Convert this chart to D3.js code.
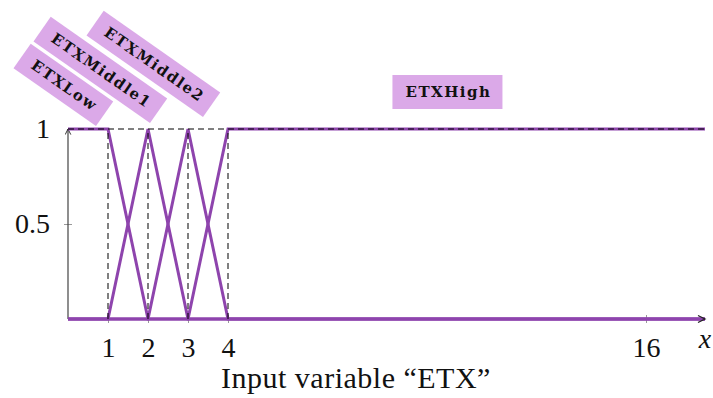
<!DOCTYPE html>
<html>
<head>
<meta charset="utf-8">
<script src="https://cdn.jsdelivr.net/npm/d3@7"></script>
<style>
  html, body { margin: 0; padding: 0; background: #fff; }
  svg { display: block; }
</style>
</head>
<body>
<svg id="chart" width="713" height="398"></svg>
<script>
// ---- data ----
const seriesNames = ["ETXLow", "ETXMiddle1", "ETXMiddle2", "ETXHigh"];
const xMaxValue = 17.7;
const lowX = [0, 1, 2, xMaxValue];
const lowY = [1, 1, 0, 0];
const mid1X = [0, 1, 2, 3, xMaxValue];
const mid1Y = [0, 0, 1, 0, 0];
const mid2X = [0, 2, 3, 4, xMaxValue];
const mid2Y = [0, 0, 1, 0, 0];
const highX = [0, 3, 4, xMaxValue];
const highY = [0, 0, 1, 1];
const xTickValues = [1, 2, 3, 4, 16];
const yTickValues = [0.5, 1];
const guideX = [1, 2, 3, 4];
const xAxisTitle = "Input variable “ETX”";

// ---- layout / style ----
const lineColor = "#8e44ad";
const boxColor = "#dba9e8";
const SERIF = '"Liberation Serif"';
const BOXFONT = '"DejaVu Serif"';
const svg = d3.select("#chart");

const x = d3.scaleLinear().domain([0, 4, 16, xMaxValue]).range([68, 228, 646, 705]);
const y = d3.scaleLinear().domain([0, 1]).range([319, 129]);

// arrow marker
const defs = svg.append("defs");
defs.append("marker").attr("id", "arr").attr("viewBox", "0 0 10 10")
  .attr("refX", 9).attr("refY", 5).attr("markerWidth", 7).attr("markerHeight", 7)
  .attr("markerUnits", "userSpaceOnUse").attr("orient", "auto")
  .append("path").attr("d", "M1,1 L9,5 L1,9").attr("fill", "none")
  .attr("stroke", "#222").attr("stroke-width", 1.3);

// x axis (ticks + labels)
const xAxis = d3.axisBottom(x).tickValues(xTickValues).tickFormat(d3.format("d")).tickSizeOuter(0);
const gx = svg.append("g").attr("transform", `translate(0,${y(0)})`).call(xAxis);
gx.attr("font-family", null).attr("font-size", null);
gx.select(".domain").remove();
gx.selectAll(".tick line").attr("y1", -4).attr("y2", 4).attr("stroke", "#999");
gx.selectAll(".tick text").attr("y", 38).attr("dy", 0)
  .style("font-family", SERIF).style("font-size", "28px").attr("fill", "#111");

// y axis
const yAxis = d3.axisLeft(y).tickValues(yTickValues).tickFormat(d => d === 1 ? "1" : String(d)).tickSizeOuter(0);
const gy = svg.append("g").attr("transform", `translate(${x(0)},0)`).call(yAxis);
gy.attr("font-family", null).attr("font-size", null);
gy.select(".domain").remove();
gy.selectAll(".tick line").attr("x1", -4).attr("x2", 4).attr("stroke", "#999");
gy.selectAll(".tick line").filter(d => d === 1).remove();
gy.selectAll(".tick text").attr("x", -18).attr("dy", "0.32em")
  .style("font-family", SERIF).style("font-size", "28px").attr("fill", "#111");

// axis lines
svg.append("line").attr("x1", x(0)).attr("x2", x(xMaxValue)).attr("y1", y(0)).attr("y2", y(0))
  .attr("stroke", "#333").attr("stroke-width", 1);
svg.append("line").attr("x1", x(0)).attr("x2", x(0)).attr("y1", y(0)).attr("y2", y(1))
  .attr("stroke", "#444").attr("stroke-width", 1.2).attr("marker-end", "url(#arr)");

// membership functions
const series = [
  { name: seriesNames[0], xs: lowX, ys: lowY },
  { name: seriesNames[1], xs: mid1X, ys: mid1Y },
  { name: seriesNames[2], xs: mid2X, ys: mid2Y },
  { name: seriesNames[3], xs: highX, ys: highY }
];
const line = d3.line().x(d => x(d[0])).y(d => y(d[1]));
svg.append("g").selectAll("path").data(series).join("path")
  .attr("d", s => line(s.xs.map((v, i) => [v, s.ys[i]])))
  .attr("fill", "none").attr("stroke", lineColor).attr("stroke-width", 3)
  .attr("stroke-linejoin", "miter");

// dashed guides
svg.append("line").attr("x1", x(0)).attr("x2", x(xMaxValue)).attr("y1", y(1)).attr("y2", y(1))
  .attr("stroke", "#000").attr("stroke-width", 1).attr("stroke-dasharray", "6,4");
svg.append("g").selectAll("line").data(guideX).join("line")
  .attr("x1", d => x(d)).attr("x2", d => x(d)).attr("y1", y(0)).attr("y2", y(1))
  .attr("stroke", "#000").attr("stroke-width", 1).attr("stroke-dasharray", "6,4");

// x arrowhead on top
svg.append("path")
  .attr("d", `M${x(xMaxValue) - 7},${y(0) - 3.5} L${x(xMaxValue)},${y(0)} L${x(xMaxValue) - 7},${y(0) + 3.5}`)
  .attr("fill", "none").attr("stroke", "#222").attr("stroke-width", 1.3);

// axis titles
svg.append("text").attr("x", x(xMaxValue)).attr("y", 348).attr("text-anchor", "middle")
  .style("font-family", SERIF).style("font-style", "italic")
  .style("font-size", "28px").attr("fill", "#111").text("x");
svg.append("text").attr("x", 356).attr("y", 388).attr("text-anchor", "middle")
  .style("font-family", SERIF).style("font-size", "30px")
  .style("letter-spacing", "0.5px").attr("fill", "#111").text(xAxisTitle);

// series label boxes
const labelLayout = [
  { ax: 0.7, dy: -3, rot: 35, h: 30 },
  { ax: 2.05, dy: -6, rot: 35, h: 30 },
  { ax: 3.375, dy: -12, rot: 35, h: 30 },
  { ax: 10.3, dy: -37, rot: 0, h: 34 }
];
seriesNames.forEach((name, i) => {
  const L = labelLayout[i];
  const g = svg.append("g");
  const t = g.append("text").style("font-family", BOXFONT).style("font-weight", "bold")
    .style("font-size", "15px").style("letter-spacing", "1.5px").attr("fill", "#111")
    .attr("text-anchor", "middle").attr("dominant-baseline", "central").text(name);
  const tw = t.node().getComputedTextLength();
  const w = tw + 24;
  const px = x(L.ax), py = y(1) + L.dy;
  if (L.rot) {
    g.attr("transform", `translate(${px},${py}) rotate(${L.rot})`);
    g.insert("rect", "text").attr("x", -w).attr("y", -L.h).attr("width", w).attr("height", L.h).attr("fill", boxColor);
    t.attr("x", -w / 2 + 1).attr("y", -L.h / 2);
  } else {
    g.attr("transform", `translate(${px},${py})`);
    g.insert("rect", "text").attr("x", -w / 2).attr("y", -L.h / 2).attr("width", w).attr("height", L.h).attr("fill", boxColor);
    t.attr("x", 1).attr("y", 0);
  }
});
</script>
</body>
</html>
